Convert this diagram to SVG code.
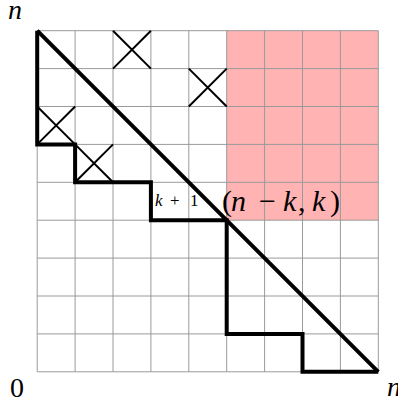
<svg xmlns="http://www.w3.org/2000/svg" width="398" height="404" viewBox="0 0 398 404">
<style>
.grid{stroke:#9a9a9a;stroke-width:1;fill:none}
.thick{stroke:#000;stroke-width:4;fill:none;stroke-linejoin:miter}
.x{stroke:#000;stroke-width:2}
.t{font-family:"Liberation Serif",serif;fill:#000}
.i{font-style:italic}
</style>
<rect id="region" x="226.7" y="30.7" width="151.6" height="189.5" fill="#ffb3b3"/>
<g id="grid" class="grid">
<path d="M37.2 30.7V371.8M75.1 30.7V371.8M113 30.7V371.8M150.9 30.7V371.8M188.8 30.7V371.8M226.7 30.7V371.8M264.6 30.7V371.8M302.5 30.7V371.8M340.4 30.7V371.8M378.3 30.7V371.8"/>
<path d="M37.2 30.7H378.3M37.2 68.6H378.3M37.2 106.5H378.3M37.2 144.4H378.3M37.2 182.3H378.3M37.2 220.2H378.3M37.2 258.1H378.3M37.2 296H378.3M37.2 333.9H378.3M37.2 371.8H378.3"/>
</g>
<g id="crosses" class="x">
<path d="M113 30.7L150.9 68.6M150.9 30.7L113 68.6"/>
<path d="M188.8 68.6L226.7 106.5M226.7 68.6L188.8 106.5"/>
<path d="M37.2 106.5L75.1 144.4M75.1 106.5L37.2 144.4"/>
<path d="M75.1 144.4L113 182.3M113 144.4L75.1 182.3"/>
</g>
<g id="connectors">
<path class="thick" d="M37.2 30.7V144.4H75.1V182.3H150.9V220.2H226.7V333.9H302.5V371.8H378.3"/>
<path class="thick" d="M37.2 30.7L378.3 371.8"/>
</g>
<g id="labels">
<text class="t i" x="8" y="19" font-size="28">n</text>
<text class="t" x="10" y="397" font-size="28">0</text>
<text class="t i" x="387" y="396" font-size="28">n</text>
<text class="t" y="206" font-size="17"><tspan class="i" x="155">k</tspan><tspan x="170">+</tspan><tspan x="190">1</tspan></text>
<text class="t" y="211" font-size="30"><tspan x="222">(</tspan><tspan class="i" x="231">n</tspan><tspan x="259">−</tspan><tspan class="i" x="283">k</tspan><tspan x="298">,</tspan><tspan class="i" x="312">k</tspan><tspan x="330">)</tspan></text>
</g>
</svg>
